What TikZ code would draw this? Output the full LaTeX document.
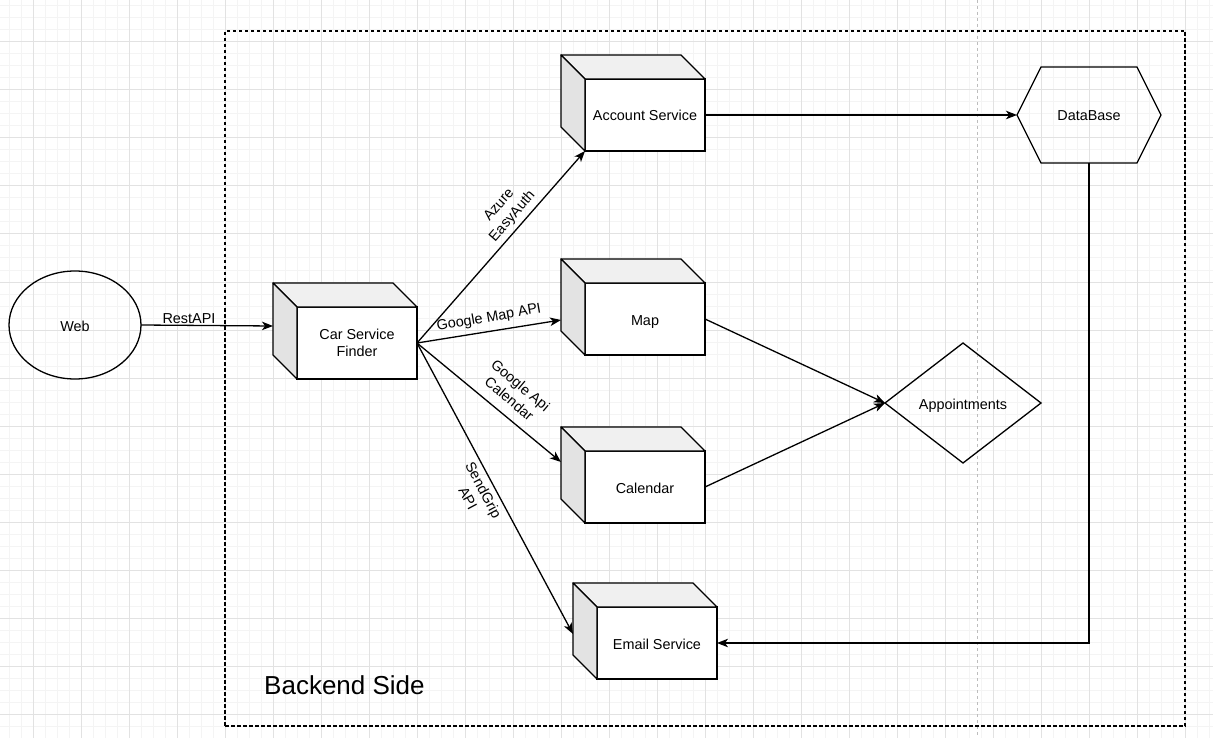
\documentclass[tikz,border=0pt]{standalone}
\usepackage{fontspec}
\setmainfont{Liberation Sans}
\usetikzlibrary{arrows.meta,shapes.geometric,calc}
\definecolor{gridminor}{HTML}{F4F4F4}
\definecolor{gridmajor}{HTML}{E2E2E2}
\definecolor{cubetop}{HTML}{F0F0F0}
\definecolor{cubeside}{HTML}{E3E3E3}
\definecolor{pagebreak}{HTML}{BDBDBD}
\newcommand\cubenode[5]{%
  \node[front, #4] (#1) at (#2,#3) {#5};
  \filldraw[face, fill=cubetop] (#1.north west) -- ++(-24,-24) -- ++(120,0) -- (#1.north east) -- cycle;
  \filldraw[face, fill=cubeside] (#1.north west) -- ++(-24,-24) -- ++(0,72) -- (#1.south west) -- cycle;
}
\begin{document}
\begin{tikzpicture}[x=1pt,y=-1pt,
  txt/.style={font=\fontsize{14.4}{17.5}\selectfont, text=black},
  oneline/.style={text height=12pt, text depth=0pt},
  front/.style={draw, line width=1.3pt, fill=white, minimum width=120pt, minimum height=72pt, inner sep=0pt, outer sep=0pt, txt, align=center},
  face/.style={draw, line width=1.3pt, line join=round},
  conn/.style={line width=1.3pt, -{Stealth[length=11pt,width=8.5pt,inset=3pt]}},
  lbl/.style={txt, align=center, inner sep=0pt},
  shapeline/.style={draw, line width=1.3pt, line join=miter},
]
\useasboundingbox (0,0) rectangle (1213,738);
\fill[white] (0,0) rectangle (1213,738);
% grid
\foreach \x in {9,21,...,1212} \draw[gridminor, line width=1pt] (\x,0) -- (\x,738);
\foreach \y in {6,18,...,737} \draw[gridminor, line width=1pt] (0,\y) -- (1213,\y);
\foreach \x in {33,81,...,1212} \draw[gridmajor, line width=1pt] (\x,0) -- (\x,738);
\foreach \y in {42,90,...,737} \draw[gridmajor, line width=1pt] (0,\y) -- (1213,\y);
% page break
\draw[pagebreak, line width=1pt, dash pattern=on 3pt off 3pt] (977,0) -- (977,738);

% container
\node[draw, line width=1.3pt, dash pattern=on 3.5pt off 2.5pt, minimum width=960pt, minimum height=695pt, inner sep=0pt] (backendbox) at (705,378.5) {};
\node[font=\fontsize{26}{30}\selectfont, anchor=base west, inner sep=0pt] (backend) at (264,694) {Backend Side};

% web
\node[ellipse, draw, line width=1.3pt, minimum width=132pt, minimum height=108pt, inner sep=0pt, outer sep=0pt, txt, oneline] (web) at (75,325) {Web};

% cubes
\cubenode{car}{357}{343}{}{Car Service\\Finder}
\cubenode{account}{645}{115}{oneline}{Account Service}
\cubenode{map}{645}{319}{oneline}{Map}
\cubenode{calendar}{645}{487}{oneline}{Calendar}
\cubenode{email}{657}{643}{oneline}{Email Service}

% database hexagon
\node[minimum width=144pt, minimum height=96pt, inner sep=0pt, outer sep=0pt, txt, oneline] (db) at (1089,115) {DataBase};
\draw[shapeline] (db.west) -- ($(db.north west)+(24,0)$) -- ($(db.north east)+(-24,0)$) -- (db.east) -- ($(db.south east)+(-24,0)$) -- ($(db.south west)+(24,0)$) -- cycle;

% appointments diamond
\node[minimum width=156pt, minimum height=120pt, inner sep=0pt, outer sep=0pt, txt, oneline] (appt) at (963,403) {Appointments};
\draw[shapeline] (appt.west) -- (appt.north) -- (appt.east) -- (appt.south) -- cycle;

% connectors
\draw[conn] (web.east) -- ($(car.north west)+(-24,19)$);
\node[lbl] (lRest) at (189,319) {RestAPI};
\draw[conn] (car.east) -- (account.south west);
\draw[conn] (car.east) -- ($(map.north west)+(-24,37)$);
\draw[conn] (car.east) -- ($(calendar.north west)+(-24,11)$);
\draw[conn] (car.east) -- ($(email.north west)+(-24,27)$);
\draw[conn] (account.east) -- (db.west);
\draw[conn] (map.east) -- (appt.west);
\draw[conn] (calendar.east) -- (appt.west);
\draw[conn] (db.south) |- (email.east);

% edge labels
\node[lbl, rotate=49] (lAzure) at (506,211) {Azure\\EasyAuth};
\node[lbl, rotate=10] (lMap) at (489,318) {Google Map API};
\node[lbl, rotate=-40] (lCal) at (515,392) {Google Api\\Calendar};
\node[lbl, rotate=-62] (lSend) at (476,494) {SendGrip\\API};
\end{tikzpicture}
\end{document}
